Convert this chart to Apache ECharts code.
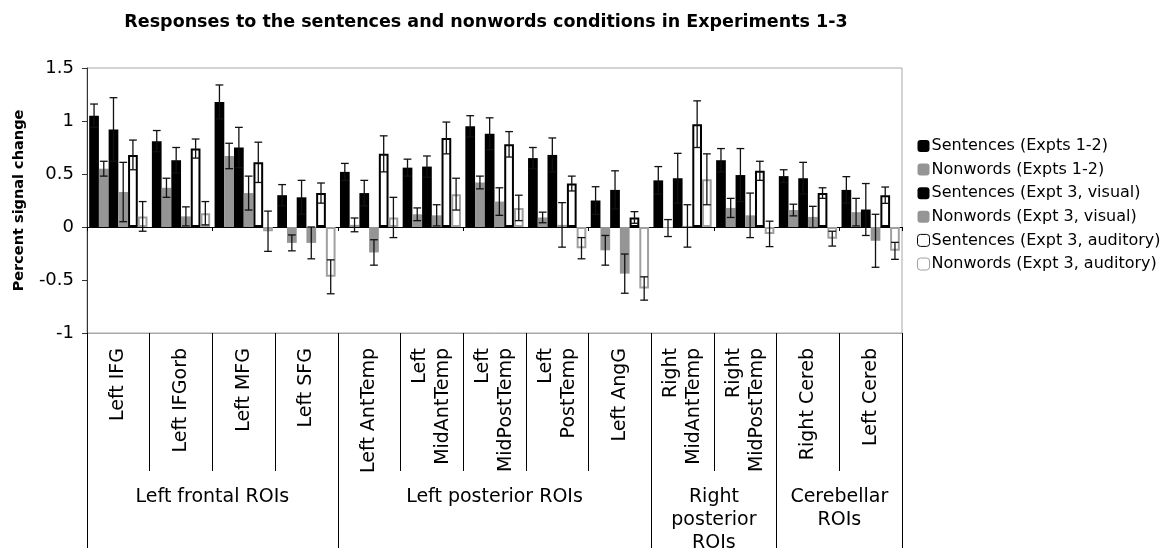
<!DOCTYPE html>
<html>
<head>
<meta charset="utf-8">
<script src="https://cdn.jsdelivr.net/npm/echarts@6/dist/echarts.min.js"></script>
<style>
  html, body { margin: 0; padding: 0; background: #fff; }
  #chart { width: 1163px; height: 555px; }
</style>
</head>
<body>
<div id="chart"></div>
<script>
// ROI categories (x axis)
const roiNames = [
  'Left IFG', 'Left IFGorb', 'Left MFG', 'Left SFG',
  'Left AntTemp', 'Left\nMidAntTemp', 'Left\nMidPostTemp', 'Left\nPostTemp', 'Left AngG',
  'Right\nMidAntTemp', 'Right\nMidPostTemp',
  'Right Cereb', 'Left Cereb'
];
const groupNames = ['Left frontal ROIs', 'Left posterior ROIs', 'Right\nposterior\nROIs', 'Cerebellar\nROIs'];
const groupSizes = [4, 5, 2, 2];
const yTicks = [-1, -0.5, 0, 0.5, 1, 1.5];

// mean percent signal change
const sent12 = [1.05, 0.81, 1.18, 0.30, 0.52, 0.56, 0.95, 0.65, 0.25, 0.44, 0.63, 0.48, 0.35];
const non12 = [0.55, 0.37, 0.67, -0.15, 0.02, 0.12, 0.42, 0.09, -0.22, -0.01, 0.18, 0.16, 0.14];
const sent3v = [0.92, 0.63, 0.75, 0.28, 0.32, 0.57, 0.88, 0.68, 0.35, 0.46, 0.49, 0.46, 0.165];
const non3v = [0.33, 0.10, 0.32, -0.15, -0.24, 0.11, 0.24, 0.02, -0.44, 0.01, 0.11, 0.095, -0.13];
const sent3a = [0.68, 0.74, 0.61, 0.32, 0.69, 0.84, 0.78, 0.41, 0.09, 0.97, 0.53, 0.32, 0.30];
const non3a = [0.10, 0.13, -0.04, -0.47, 0.09, 0.31, 0.18, -0.20, -0.58, 0.45, -0.065, -0.11, -0.225];

// standard errors
const sent12Err = [0.11, 0.10, 0.16, 0.10, 0.08, 0.08, 0.10, 0.10, 0.13, 0.13, 0.11, 0.06, 0.125];
const non12Err = [0.07, 0.09, 0.12, 0.075, 0.065, 0.06, 0.06, 0.05, 0.14, 0.08, 0.09, 0.055, 0.13];
const sent3vErr = [0.30, 0.12, 0.19, 0.16, 0.12, 0.10, 0.15, 0.16, 0.18, 0.235, 0.25, 0.15, 0.245];
const non3vErr = [0.28, 0.09, 0.16, 0.15, 0.12, 0.10, 0.13, 0.21, 0.185, 0.20, 0.21, 0.10, 0.25];
const sent3aErr = [0.14, 0.09, 0.19, 0.095, 0.17, 0.15, 0.12, 0.07, 0.055, 0.22, 0.09, 0.05, 0.077];
const non3aErr = [0.14, 0.11, 0.19, 0.16, 0.19, 0.15, 0.12, 0.10, 0.11, 0.24, 0.12, 0.07, 0.08];

const seriesDefs = [
  { name: 'Sentences (Expts 1-2)', values: sent12, errs: sent12Err, color: '#000', border: '#000', bw: 0 },
  { name: 'Nonwords (Expts 1-2)', values: non12, errs: non12Err, color: '#959595', border: '#959595', bw: 0 },
  { name: 'Sentences (Expt 3, visual)', values: sent3v, errs: sent3vErr, color: '#000', border: '#000', bw: 0 },
  { name: 'Nonwords (Expt 3, visual)', values: non3v, errs: non3vErr, color: '#959595', border: '#959595', bw: 0 },
  { name: 'Sentences (Expt 3, auditory)', values: sent3a, errs: sent3aErr, color: '#fff', border: '#000', bw: 2 },
  { name: 'Nonwords (Expt 3, auditory)', values: non3a, errs: non3aErr, color: '#fff', border: '#a0a0a0', bw: 2 }
];

const catGap = 0.07;
const font = 'DejaVu Sans';

// half-category slots for the group row
const slotCount = roiNames.length * 2 + 1;
const groupBounds = [0];
const groupCenters = [];
groupSizes.forEach((n, i) => {
  const start = groupBounds[i];
  groupBounds.push(start + n * 2);
  groupCenters.push(start + n);
});
const groupSlots = [];
for (let i = 0; i < slotCount; i++) {
  const g = groupCenters.indexOf(i);
  groupSlots.push(g >= 0 ? groupNames[g] : '_' + i);
}

const chart = echarts.init(document.getElementById('chart'));

const bars = seriesDefs.map((s) => ({
  name: s.name,
  type: 'bar',
  xAxisIndex: 0,
  yAxisIndex: 0,
  barGap: '0%',
  barCategoryGap: (catGap * 100) + '%',
  data: s.values,
  itemStyle: { color: s.color, borderColor: s.border, borderWidth: s.bw },
  emphasis: { disabled: true },
  z: 2
}));

// error bars, placed on each bar through the axis scale
const errorBars = seriesDefs.map((s, k) => ({
  name: s.name + ' err',
  type: 'custom',
  xAxisIndex: 0,
  yAxisIndex: 0,
  z: 5,
  silent: true,
  data: s.values.map((v, i) => [i, v, s.errs[i]]),
  renderItem: function (params, api) {
    const x = api.value(0);
    const v = api.value(1);
    const e = api.value(2);
    const band = api.size([1, 0])[0];
    const total = band * (1 - catGap);
    const barW = total / seriesDefs.length;
    const cx = api.coord([x, v])[0] - total / 2 + (k + 0.5) * barW;
    const yTop = api.coord([x, v + e])[1];
    const yBot = api.coord([x, v - e])[1];
    const cap = barW * 0.4;
    const style = { stroke: '#111', lineWidth: 1.3 };
    return {
      type: 'group',
      children: [
        { type: 'line', shape: { x1: cx, y1: yTop, x2: cx, y2: yBot }, style },
        { type: 'line', shape: { x1: cx - cap, y1: yTop, x2: cx + cap, y2: yTop }, style },
        { type: 'line', shape: { x1: cx - cap, y1: yBot, x2: cx + cap, y2: yBot }, style }
      ]
    };
  }
}));

const option = {
  animation: false,
  backgroundColor: '#fff',
  title: {
    text: 'Responses to the sentences and nonwords conditions in Experiments 1-3',
    left: 481,
    textAlign: 'center',
    top: 8,
    textStyle: { fontFamily: font, fontWeight: 'bold', fontSize: 17.5, color: '#000' }
  },
  legend: {
    orient: 'vertical',
    left: 912,
    top: 133,
    itemWidth: 12,
    itemHeight: 12,
    itemGap: 7.6,
    textStyle: { fontFamily: font, fontSize: 16, lineHeight: 16, color: '#000', padding: [0, 0, 0, -3] },
    data: seriesDefs.map((s) => ({
      name: s.name,
      itemStyle: { color: s.color, borderColor: s.bw ? s.border : s.color, borderWidth: s.bw ? 1 : 0 }
    })),
    selectedMode: false
  },
  grid: {
    left: 87,
    right: 261,
    top: 68,
    bottom: 215,
    show: true,
    borderColor: '#a8a8a8',
    borderWidth: 1
  },
  xAxis: [
    {
      type: 'category',
      data: roiNames,
      position: 'bottom',
      axisLine: { onZero: true, lineStyle: { color: '#000', width: 1 } },
      axisTick: { show: true, length: 4, lineStyle: { color: '#000' } },
      axisLabel: { show: false },
      splitLine: { show: false }
    },
    {
      type: 'category',
      data: roiNames,
      position: 'bottom',
      axisLine: { onZero: false, lineStyle: { color: '#a8a8a8', width: 1 } },
      axisTick: { show: true, length: 138, lineStyle: { color: '#000' } },
      axisLabel: {
        interval: 0,
        rotate: 90,
        margin: 15,
        fontFamily: font,
        fontSize: 19,
        lineHeight: 23,
        color: '#000'
      },
      splitLine: { show: false }
    },
    {
      type: 'category',
      data: groupSlots,
      boundaryGap: false,
      position: 'bottom',
      axisLine: { show: false, onZero: false },
      axisTick: {
        show: true,
        length: 215,
        interval: (idx) => groupBounds.indexOf(idx) >= 0,
        lineStyle: { color: '#000' }
      },
      axisLabel: {
        interval: (idx) => groupCenters.indexOf(idx) >= 0,
        formatter: (val) => (groupNames.indexOf(val) >= 0 ? val : ''),
        margin: 153,
        fontFamily: font,
        fontSize: 19,
        lineHeight: 23,
        color: '#000',
        align: 'center'
      },
      splitLine: { show: false }
    }
  ],
  yAxis: {
    type: 'value',
    min: yTicks[0],
    max: yTicks[yTicks.length - 1],
    interval: 0.5,
    name: 'Percent signal change',
    nameLocation: 'middle',
    nameGap: 60,
    nameTextStyle: { fontFamily: font, fontWeight: 'bold', fontSize: 14.5, color: '#000' },
    axisLine: { show: true, lineStyle: { color: '#333' } },
    axisTick: { show: true, length: 5, lineStyle: { color: '#333' } },
    axisLabel: { fontFamily: font, fontSize: 18, color: '#000', margin: 13 },
    splitLine: { show: false }
  },
  series: bars.concat(errorBars)
};

chart.setOption(option);
</script>
</body>
</html>
